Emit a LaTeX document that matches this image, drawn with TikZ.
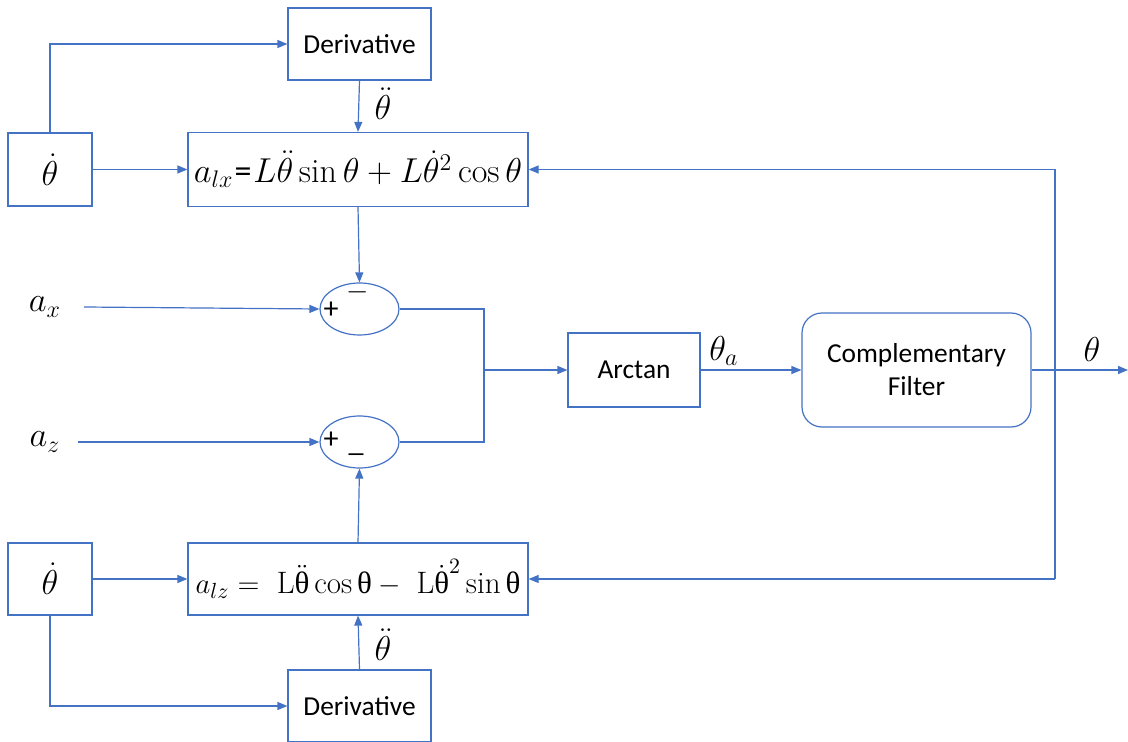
\documentclass[tikz,border=0pt]{standalone}
\usepackage{fontspec}
\usetikzlibrary{arrows.meta,shapes.geometric}
\newfontfamily\calib{Carlito}
\newfontfamily\lserif{Liberation Serif}
\newcommand{\uth}{\mbox{\lserif θ}}
\definecolor{ob}{HTML}{4472C4}
\begin{document}
\begin{tikzpicture}[x=0.5pt,y=-0.5pt,
  line width=0.6pt,
  box/.style={draw=ob, fill=white, inner sep=0pt, align=center},
  wire/.style={draw=ob, line width=0.6pt},
  arr/.style={wire, -{Triangle[length=5pt,width=4pt]}},
  lbl/.style={font=\calib\fontsize{13.7}{16.5}\selectfont},
  sgn/.style={font=\calib\fontsize{15}{18}\selectfont},
  mth/.style={font=\fontsize{17}{20}\selectfont},
  mths/.style={font=\fontsize{15.5}{18}\selectfont},
  sumnode/.style={draw=ob, ellipse, minimum width=39.5pt, minimum height=26pt, inner sep=0pt}
]
\useasboundingbox (0,0) rectangle (1128,742);
% boxes
\node[box, lbl, minimum width=71.5pt, minimum height=36pt] (der1) at (359.5,44) {Derivative};
\node[box, mth, minimum width=42pt, minimum height=36.5pt] (th1) at (50,169.5) {$\dot\theta$};
\node[box, mth, minimum width=170pt, minimum height=37pt] (alx) at (358,169.5)
  {$a_{lx}$\hspace{0.5pt}{\calib=}\hspace{1pt}$L\ddot\theta\sin\theta+L\dot\theta^{2}\cos\theta$};
\node[sumnode] (s1) at (359.5,309) {};
\node[sumnode] (s2) at (359.5,442) {};
\node[box, lbl, minimum width=66pt, minimum height=37pt] (arc) at (634,370) {Arctan};
\node[box, lbl, rounded corners=10pt, minimum width=114.5pt, minimum height=57pt] (cf) at (916.5,370) {Complementary\\Filter};
\node[box, mth, minimum width=42pt, minimum height=36pt] (th2) at (50,579) {$\dot\theta$};
\node[box, mths, minimum width=170pt, minimum height=36pt] (alz) at (358,579)
  {$a_{lz}=\ \mathrm{L}\ddot{\uth}\cos\uth-\ \mathrm{L}\dot{\uth}^{2}\sin\uth$};
\node[box, lbl, minimum width=71.5pt, minimum height=36pt] (der2) at (359.5,706) {Derivative};
% sign labels
\node[sgn] (p1) at (331,310) {+};
\node[sgn] (m1) at (358,292) {$-$};
\node[sgn] (p2) at (331,440) {+};
\node[sgn] (m2) at (356,454) {\_};
% inputs
\node[mth] (ax) at (45,307) {$a_x$};
\node[mth] (az) at (45,442) {$a_z$};
% labels
\node[mth] (dd1) at (383,104) {$\ddot\theta$};
\node[mth] (dd2) at (383,645) {$\ddot\theta$};
\node[mth] (tha) at (724,351) {$\theta_a$};
\node[mth] (tho) at (1092,350) {$\theta$};
% coordinates
\coordinate (j) at (484,370);
\coordinate (fbt) at (1055,169.5);
\coordinate (fbb) at (1055,579);
\coordinate (out) at (1128,370);
% connectors
\draw[arr] (th1.north) |- (der1.west);
\draw[arr] (der1.south) -- (alx.north);
\draw[arr] (th1.east) -- (alx.west);
\draw[arr] (alx.south) -- (s1.north);
\draw[arr] ([xshift=19.5pt]ax.center) -- (s1.west);
\draw[arr] ([xshift=16.5pt]az.center) -- (s2.west);
\draw[wire] (s1.east) -| (j);
\draw[wire] (s2.east) -| (j);
\draw[arr] (j) -- (arc.west);
\draw[arr] (arc.east) -- (cf.west);
\draw[arr] (cf.east) -- (out);
\draw[wire] (fbt) -- (fbb);
\draw[arr] (fbt) -- (alx.east);
\draw[arr] (fbb) -- (alz.east);
\draw[arr] (alz.north) -- (s2.south);
\draw[arr] (th2.east) -- (alz.west);
\draw[arr] (der2.north) -- (alz.south);
\draw[arr] (th2.south) |- (der2.west);
\end{tikzpicture}
\end{document}
